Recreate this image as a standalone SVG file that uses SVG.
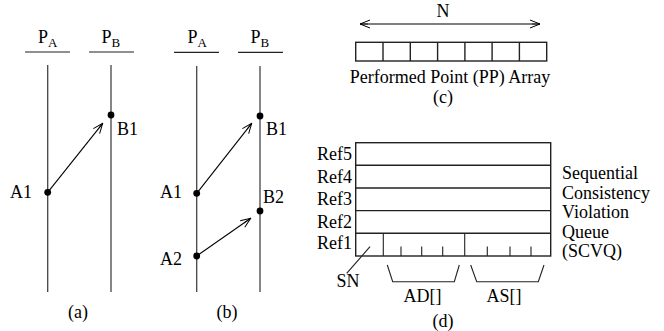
<svg xmlns="http://www.w3.org/2000/svg" width="664" height="331" viewBox="0 0 664 331">
<style>
.life{stroke:#444;stroke-width:1.3;fill:none}
.hdr{stroke:#222;stroke-width:1.2}
.arr{stroke:#000;stroke-width:1.1;fill:none}
.dot{fill:#000}
.box{stroke:#222;stroke-width:1.4;fill:none}
.thin{stroke:#222;stroke-width:1.1;fill:none}
</style>
<defs>
<marker id="open" viewBox="0 0 12 10" refX="11" refY="5" markerWidth="12" markerHeight="10" markerUnits="userSpaceOnUse" orient="auto-start-reverse">
<polyline points="1,1 11,5 1,9" fill="none" stroke="#000" stroke-width="1"/>
<line x1="3" y1="5" x2="11" y2="5" stroke="#000" stroke-width="0.8"/>
</marker>
</defs>

<g id="diagram-a">
<g id="a-PA"><text x="38" y="43" font-family="Liberation Serif" font-size="18">P<tspan font-size="13" dy="3.5">A</tspan></text><line class="hdr" x1="25" y1="52" x2="70" y2="52"/><line class="life" x1="47.7" y1="65" x2="47.7" y2="292"/></g>
<g id="a-PB"><text x="101.5" y="43" font-family="Liberation Serif" font-size="18">P<tspan font-size="13" dy="3.5">B</tspan></text><line class="hdr" x1="89" y1="52" x2="134" y2="52"/><line class="life" x1="111" y1="65" x2="111" y2="292"/></g>
<g id="a-A1"><circle class="dot" cx="47.7" cy="192.3" r="3.4"/><text x="10" y="198" font-family="Liberation Serif" font-size="18">A1</text></g>
<g id="a-B1"><circle class="dot" cx="111" cy="115" r="3.4"/><text x="117" y="135" font-family="Liberation Serif" font-size="18">B1</text></g>
<text x="78" y="318" text-anchor="middle" font-family="Liberation Serif" font-size="18">(a)</text>
</g>

<g id="diagram-b">
<g id="b-PA"><text x="187.5" y="43" font-family="Liberation Serif" font-size="18">P<tspan font-size="13" dy="3.5">A</tspan></text><line class="hdr" x1="174" y1="52.3" x2="219" y2="52.3"/><line class="life" x1="196.7" y1="66" x2="196.7" y2="292"/></g>
<g id="b-PB"><text x="250.5" y="43" font-family="Liberation Serif" font-size="18">P<tspan font-size="13" dy="3.5">B</tspan></text><line class="hdr" x1="238" y1="52.3" x2="283" y2="52.3"/><line class="life" x1="260" y1="66" x2="260" y2="292"/></g>
<g id="b-A1"><circle class="dot" cx="196.7" cy="193.3" r="3.4"/><text x="160" y="198" font-family="Liberation Serif" font-size="18">A1</text></g>
<g id="b-B1"><circle class="dot" cx="260" cy="116" r="3.4"/><text x="266" y="135" font-family="Liberation Serif" font-size="18">B1</text></g>
<g id="b-A2"><circle class="dot" cx="196.7" cy="256" r="3.4"/><text x="160" y="265" font-family="Liberation Serif" font-size="18">A2</text></g>
<g id="b-B2"><circle class="dot" cx="260" cy="211" r="3.4"/><text x="263" y="203" font-family="Liberation Serif" font-size="18">B2</text></g>
<text x="227" y="318" text-anchor="middle" font-family="Liberation Serif" font-size="18">(b)</text>
</g>

<g id="connectors">
<line class="arr" x1="47.7" y1="192.3" x2="102.7" y2="123.3" marker-end="url(#open)"/>
<line class="arr" x1="196.7" y1="193.3" x2="251.7" y2="123.3" marker-end="url(#open)"/>
<line class="arr" x1="196.7" y1="256" x2="250.7" y2="218.3" marker-end="url(#open)"/>
<line class="arr" x1="360" y1="24" x2="540" y2="24" marker-start="url(#open)" marker-end="url(#open)"/>
</g>

<g id="diagram-c">
<text x="443" y="17" text-anchor="middle" font-family="Liberation Serif" font-size="18">N</text>
<g id="pp-array">
<rect class="box" x="355.7" y="42.3" width="191" height="18.7"/>
<path class="box" d="M383 42.3V61M410.3 42.3V61M437.6 42.3V61M464.9 42.3V61M492.1 42.3V61M519.4 42.3V61"/>
</g>
<text x="450" y="83" text-anchor="middle" font-family="Liberation Serif" font-size="18">Performed Point (PP) Array</text>
<text x="443" y="103" text-anchor="middle" font-family="Liberation Serif" font-size="18">(c)</text>
</g>

<g id="diagram-d">
<g id="scvq">
<rect class="box" x="355.7" y="142.7" width="195" height="113.3"/>
<path class="box" d="M355.7 165.3H550.7M355.7 188H550.7M355.7 210.6H550.7M355.7 233.3H550.7"/>
<path class="thin" d="M383.3 233.3V256M464.7 233.3V256"/>
<path class="thin" d="M401 246.5V256M421.7 246.5V256M442.7 246.5V256M487.3 246.5V256M510 246.5V256M531 246.5V256"/>
</g>
<g id="ref-labels">
<text x="352" y="160" text-anchor="end" font-family="Liberation Serif" font-size="18">Ref5</text>
<text x="352" y="183" text-anchor="end" font-family="Liberation Serif" font-size="18">Ref4</text>
<text x="352" y="205" text-anchor="end" font-family="Liberation Serif" font-size="18">Ref3</text>
<text x="352" y="228" text-anchor="end" font-family="Liberation Serif" font-size="18">Ref2</text>
<text x="352" y="248.5" text-anchor="end" font-family="Liberation Serif" font-size="18">Ref1</text>
</g>
<g id="scvq-label">
<text x="562" y="179" font-family="Liberation Serif" font-size="18">Sequential</text>
<text x="562" y="198.5" font-family="Liberation Serif" font-size="18">Consistency</text>
<text x="562" y="218" font-family="Liberation Serif" font-size="18">Violation</text>
<text x="562" y="237.5" font-family="Liberation Serif" font-size="18">Queue</text>
<text x="562" y="257" font-family="Liberation Serif" font-size="18">(SCVQ)</text>
</g>
<g id="sn"><line class="thin" x1="370" y1="246.7" x2="346.7" y2="273.3"/><text x="348" y="287" text-anchor="middle" font-family="Liberation Serif" font-size="18">SN</text></g>
<g id="ad"><polyline class="thin" points="387.3,265 392.7,281.7 454.3,281.7 459.3,265"/><text x="422.5" y="302" text-anchor="middle" font-family="Liberation Serif" font-size="18">AD[]</text></g>
<g id="as"><polyline class="thin" points="470.7,265 476.7,281.7 538.3,281.7 544,265"/><text x="504" y="302" text-anchor="middle" font-family="Liberation Serif" font-size="18">AS[]</text></g>
<text x="443" y="327" text-anchor="middle" font-family="Liberation Serif" font-size="18">(d)</text>
</g>
</svg>
